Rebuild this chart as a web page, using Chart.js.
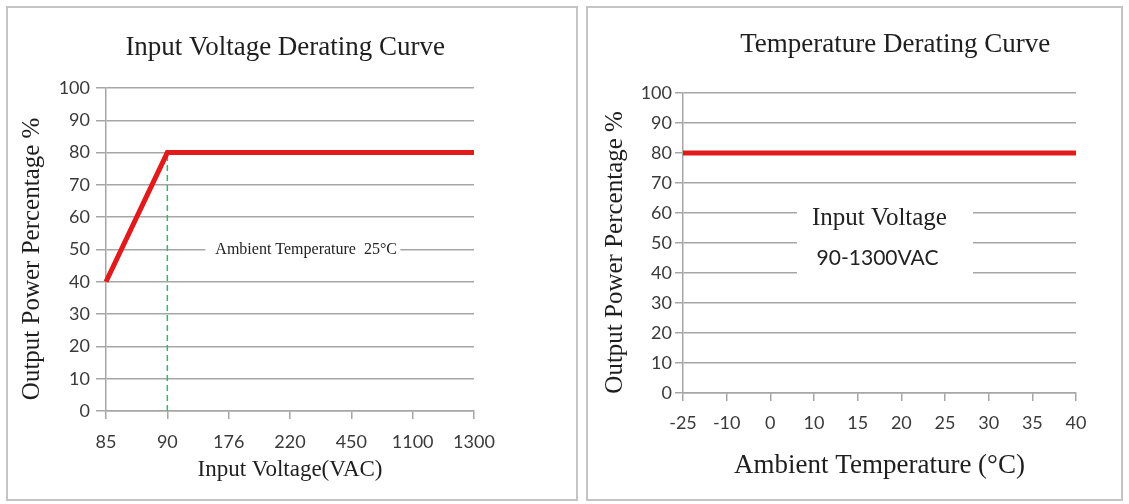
<!DOCTYPE html>
<html>
<head>
<meta charset="utf-8">
<script src="https://cdn.jsdelivr.net/npm/chart.js@4"></script>
<style>
  body { margin: 0; background: #fff; width: 1129px; height: 504px; position: relative; overflow: hidden; }
  .panel { position: absolute; border: 2px solid #c4c4c4; box-sizing: border-box; }
  #p1 { left: 6px; top: 6px; width: 572px; height: 495px; }
  #p2 { left: 586px; top: 6px; width: 537px; height: 495px; }
  canvas { position: absolute; }
</style>
</head>
<body>
<div class="panel" id="p1"></div>
<div class="panel" id="p2"></div>
<canvas id="voltChart" width="566" height="490" style="left:8px;top:8px"></canvas>
<canvas id="tempChart" width="530" height="490" style="left:590px;top:8px"></canvas>
<script>
// input voltage derating
const voltageLabels = ['85', '90', '176', '220', '450', '1100', '1300'];
const voltagePower = [40, 80, 80, 80, 80, 80, 80];
const cutoffLine = [{ x: '90', y: 0 }, { x: '90', y: 80 }];

// temperature derating
const tempLabels = ['-25', '-10', '0', '10', '15', '20', '25', '30', '35', '40'];
const tempPower = [80, 80, 80, 80, 80, 80, 80, 80, 80, 80];

const powerMin = 0;
const powerMax = 100;
const powerStep = 10;

const gridColor = '#a6a6a6';
const tickFont = { family: 'Lato', size: 18 };
const serif = 'Liberation Serif';

// title + annotation text drawn over the chart area
const notes = {
    id: 'notes',
    beforeDatasetsDraw(chart) {
        const o = chart.options.plugins.notes;
        const a = chart.chartArea;
        const y = chart.scales.y;
        const ctx = chart.ctx;
        ctx.save();
        (o.boxes || []).forEach(b => {
            const top = y.getPixelForValue(b.from);
            const bottom = y.getPixelForValue(b.to);
            ctx.fillStyle = '#fff';
            ctx.fillRect(a.left + a.width * b.x0, top, a.width * (b.x1 - b.x0), bottom - top);
        });
        ctx.textAlign = 'center';
        ctx.textBaseline = 'middle';
        (o.labels || []).forEach(l => {
            ctx.font = l.font;
            ctx.fillStyle = l.color || '#222';
            ctx.fillText(l.text, a.left + a.width * l.fx, y.getPixelForValue(l.value));
        });
        ctx.restore();
    },
    afterDraw(chart) {
        const o = chart.options.plugins.notes;
        const a = chart.chartArea;
        const ctx = chart.ctx;
        ctx.save();
        ctx.font = o.titleFont;
        ctx.fillStyle = '#1e1e1e';
        ctx.textAlign = 'center';
        ctx.textBaseline = 'middle';
        ctx.fillText(o.title, a.left + a.width * o.titleX, o.titleY);
        ctx.restore();
    }
};

function yAxis(width, tickLen, tickPad, titleSize, titlePad) {
    return {
        min: powerMin,
        max: powerMax,
        ticks: { stepSize: powerStep, color: '#3a3a3a', font: tickFont, padding: tickPad },
        grid: { color: gridColor, lineWidth: 1.5, tickLength: tickLen },
        border: { color: gridColor, width: 1.5 },
        title: {
            display: true, text: 'Output Power Percentage %   ', color: '#1e1e1e',
            font: { family: serif, size: titleSize }, padding: { top: titlePad, bottom: 0 }
        },
        afterFit(s) { s.width = width; }
    };
}

function xAxis(height, title, titleSize, titlePad, tickPad) {
    return {
        type: 'category',
        offset: false,
        grid: { drawOnChartArea: false, color: gridColor, lineWidth: 1.5, tickLength: 8 },
        border: { color: gridColor, width: 1.5 },
        ticks: { color: '#3a3a3a', font: tickFont, padding: tickPad, autoSkip: false, maxRotation: 0 },
        title: {
            display: true, text: title, color: '#1e1e1e',
            font: { family: serif, size: titleSize }, padding: { top: 0, bottom: titlePad }
        },
        afterFit(s) { s.height = height; }
    };
}

new Chart(document.getElementById('voltChart'), {
    type: 'line',
    data: {
        labels: voltageLabels,
        datasets: [{
            data: voltagePower,
            borderColor: '#e31a1c',
            borderWidth: 5,
            pointRadius: 0,
            tension: 0
        }, {
            data: cutoffLine,
            borderColor: '#33b86a',
            borderWidth: 1.5,
            borderDash: [6, 4],
            pointRadius: 0
        }]
    },
    options: {
        responsive: false,
        animation: false,
        devicePixelRatio: 1,
        layout: { padding: { top: 80, right: 100, left: 0, bottom: 0 } },
        scales: {
            x: xAxis(87, 'Input Voltage(VAC)', 23, 14, 12),
            y: yAxis(98, 10, 6, 25, 9)
        },
        plugins: {
            legend: { display: false },
            tooltip: { enabled: false },
            notes: {
                title: 'Input Voltage Derating Curve',
                titleFont: '27px "Liberation Serif"',
                titleX: 0.487,
                titleY: 40,
                boxes: [{ x0: 0.27, x1: 0.80, from: 53, to: 47 }],
                labels: [{ text: 'Ambient Temperature  25\u00b0C', value: 50, fx: 0.544, font: '16px "Liberation Serif"' }]
            }
        }
    },
    plugins: [notes]
});

new Chart(document.getElementById('tempChart'), {
    type: 'line',
    data: {
        labels: tempLabels,
        datasets: [{
            data: tempPower,
            borderColor: '#e31a1c',
            borderWidth: 5,
            pointRadius: 0,
            tension: 0
        }]
    },
    options: {
        responsive: false,
        animation: false,
        devicePixelRatio: 1,
        layout: { padding: { top: 85, right: 44, left: 0, bottom: 0 } },
        scales: {
            x: xAxis(105, 'Ambient Temperature (\u00b0C)', 27, 16, 11),
            y: yAxis(93, 8, 3, 25, 10)
        },
        plugins: {
            legend: { display: false },
            tooltip: { enabled: false },
            notes: {
                title: 'Temperature Derating Curve',
                titleFont: '27px "Liberation Serif"',
                titleX: 0.54,
                titleY: 37,
                boxes: [{ x0: 0.29, x1: 0.738, from: 64, to: 35 }],
                labels: [
                    { text: 'Input Voltage', value: 58.3, fx: 0.5, font: '25px "Liberation Serif"' },
                    { text: '90-1300VAC', value: 45, fx: 0.495, font: '21px Lato' }
                ]
            }
        }
    },
    plugins: [notes]
});
</script>
</body>
</html>
